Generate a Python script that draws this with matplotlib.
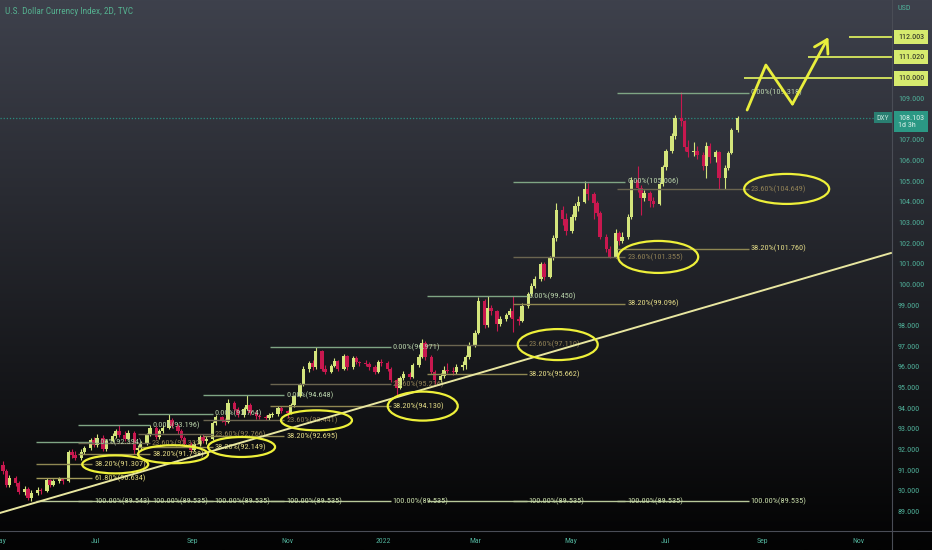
import numpy as np
import pandas as pd
import matplotlib
matplotlib.use("Agg")
import matplotlib.pyplot as plt
import matplotlib.dates as mdates
import matplotlib.transforms as mtransforms
from matplotlib.patches import Ellipse
from matplotlib.lines import Line2D
from matplotlib import font_manager

# pick a narrow face if one is installed (TradingView labels are condensed)
narrow = [f for f in font_manager.fontManager.ttflist
          if ("Narrow" in f.name or "Condensed" in f.name
              or f.stretch in ("condensed", "semi-condensed", "extra-condensed"))
          and f.style == "normal" and f.weight in (400, "normal", "regular")]
narrow.sort(key=lambda f: ("Liberation" not in f.name, "Roboto" not in f.name, f.name))
if narrow:
    FONT_FILE = narrow[0].fname
else:
    FONT_FILE = font_manager.findfont("Roboto")


def fp(size):
    return font_manager.FontProperties(fname=FONT_FILE, size=size)


# ---- data (2D candles, TVC:DXY) ----
first_open = 91.30
closes = [91.00, 90.30, 90.65, 90.40, 89.95, 90.10, 89.70, 89.90, 90.05, 90.00,
          90.55, 90.30, 90.50, 90.60, 90.50, 91.90, 91.75, 91.60, 91.90, 92.10,
          92.50, 92.25, 92.60, 92.05, 92.45, 92.70, 92.90, 92.75, 92.55, 92.85,
          92.00, 92.10, 92.35, 92.75, 93.05, 92.65, 92.90, 93.05, 93.45, 93.15,
          92.90, 92.60, 92.30, 92.00, 92.30, 92.65, 92.45, 92.55, 93.30, 93.60,
          93.45, 93.35, 94.30, 94.00, 93.70, 94.00, 94.20, 93.80, 93.65, 93.60,
          93.55, 93.70, 93.75, 94.05, 93.90, 93.80, 94.20, 94.60, 95.15, 95.95,
          96.20, 96.00, 96.80, 95.95, 95.80, 96.05, 96.30, 95.95, 96.55, 96.00,
          96.45, 96.25, 96.20, 96.15, 96.00, 95.80, 96.25, 96.20, 95.95, 95.40,
          95.00, 95.50, 95.70, 95.55, 96.10, 96.50, 97.20, 96.50, 95.80, 95.40,
          95.60, 95.90, 95.85, 95.80, 96.00, 96.10, 96.50, 97.10, 97.65, 99.20,
          98.05, 98.90, 98.75, 98.10, 98.35, 98.55, 98.75, 98.35, 98.25, 99.00,
          99.55, 99.95, 100.30, 101.00, 100.40, 101.30, 102.25, 103.65, 103.20, 102.60,
          103.30, 103.80, 104.00, 104.65, 104.40, 103.95, 103.50, 102.30, 101.75, 101.35,
          102.50, 102.15, 102.30, 103.30, 105.10, 104.70, 104.20, 104.45, 104.05, 103.90,
          104.90, 105.70, 106.50, 107.20, 108.10, 107.95, 106.70, 106.45, 106.50, 106.30,
          105.75, 106.75, 106.20, 106.45, 105.20, 105.65, 106.40, 107.50, 108.103]
highs = [91.45, 91.10, 90.80, 90.75, 90.50, 90.25, 90.20, 90.05, 90.20, 90.15,
         90.65, 90.60, 90.60, 90.70, 90.65, 92.00, 92.05, 91.95, 92.05, 92.20,
         92.60, 92.65, 92.80, 92.75, 92.55, 92.85, 93.00, 93.20, 92.90, 92.95,
         92.90, 92.25, 92.45, 92.85, 93.20, 93.15, 93.00, 93.20, 93.75, 93.55,
         93.25, 93.00, 92.70, 92.40, 92.45, 92.75, 92.80, 92.70, 93.40, 93.70,
         93.65, 93.55, 94.45, 94.40, 94.10, 94.10, 94.65, 94.30, 93.95, 93.75,
         93.70, 93.80, 93.85, 94.15, 94.15, 93.95, 94.30, 94.65, 95.25, 96.05,
         96.30, 96.35, 96.97, 96.85, 96.10, 96.15, 96.45, 96.35, 96.65, 96.60,
         96.55, 96.55, 96.30, 96.35, 96.25, 96.10, 96.35, 96.40, 96.30, 96.00,
         95.50, 95.60, 95.85, 95.80, 96.20, 96.65, 97.40, 97.30, 96.60, 95.90,
         95.75, 96.05, 96.20, 96.00, 96.15, 96.30, 96.60, 97.25, 97.80, 99.40,
         99.30, 99.45, 99.05, 98.80, 98.50, 98.65, 98.90, 99.45, 98.50, 99.10,
         99.65, 100.10, 100.45, 101.10, 101.10, 101.40, 102.40, 103.95, 103.80, 103.50,
         103.45, 103.95, 104.30, 105.01, 104.95, 104.50, 104.05, 103.60, 102.45, 101.90,
         102.70, 102.60, 102.55, 103.45, 105.25, 105.75, 104.85, 104.60, 104.55, 104.25,
         105.00, 105.80, 106.60, 107.35, 108.25, 109.32, 108.00, 107.00, 106.90, 106.75,
         106.45, 106.90, 106.85, 106.55, 106.50, 105.80, 106.50, 107.60, 108.20]
lows = [90.85, 90.20, 90.20, 90.25, 89.85, 89.80, 89.60, 89.54, 89.80, 89.85,
        89.95, 90.20, 90.25, 90.40, 90.35, 90.45, 91.60, 91.50, 91.50, 91.80,
        92.00, 92.15, 92.15, 91.95, 91.95, 92.40, 92.60, 92.65, 92.45, 92.50,
        91.80, 91.85, 92.00, 92.25, 92.70, 92.55, 92.55, 92.85, 93.00, 93.05,
        92.80, 92.50, 92.20, 91.90, 91.95, 92.20, 92.35, 92.30, 92.50, 93.20,
        93.35, 93.20, 93.30, 93.90, 93.60, 93.60, 93.95, 93.70, 93.50, 93.50,
        93.45, 93.45, 93.60, 93.65, 93.80, 93.55, 93.75, 94.10, 94.55, 95.10,
        95.80, 95.90, 95.95, 95.85, 95.70, 95.75, 96.00, 95.85, 95.90, 95.90,
        95.95, 96.15, 96.05, 96.05, 95.90, 95.70, 95.75, 96.05, 95.85, 95.30,
        94.65, 94.95, 95.40, 95.45, 95.50, 96.00, 96.45, 96.35, 95.70, 95.20,
        95.30, 95.50, 95.75, 95.65, 95.70, 95.90, 95.95, 96.40, 97.00, 97.60,
        97.90, 97.95, 98.55, 97.75, 98.00, 98.25, 98.45, 97.70, 98.05, 98.20,
        98.90, 99.45, 99.85, 100.20, 100.25, 100.35, 101.20, 102.15, 102.90, 102.40,
        102.50, 103.15, 103.60, 103.95, 104.10, 103.20, 103.35, 102.20, 101.60, 101.30,
        101.30, 101.95, 102.05, 102.20, 103.20, 104.50, 103.40, 104.05, 103.75, 103.75,
        103.85, 104.80, 105.55, 106.40, 107.05, 107.70, 106.50, 106.20, 106.25, 106.10,
        105.55, 105.20, 105.90, 105.95, 104.65, 104.65, 105.55, 106.35, 107.40]
dates = pd.bdate_range("2021-05-03", periods=len(closes), freq="2B")
opens = [first_open] + closes[:-1]

# fibonacci retracements drawn on the chart
fib_starts = ["2021-05-24", "2021-06-20", "2021-07-28", "2021-09-08",
              "2021-10-21", "2022-01-29", "2022-03-25", "2022-05-31"]
fib_ends = ["2021-06-29", "2021-08-05", "2021-09-14", "2021-10-30",
            "2022-01-06", "2022-04-03", "2022-06-05", "2022-08-23"]
fib_levels = [
    [(0, 92.394), (38.2, 91.307), (61.8, 90.634), (100, 89.543)],
    [(0, 93.196), (23.6, 92.332), (38.2, 91.798), (100, 89.535)],
    [(0, 93.764), (23.6, 92.766), (38.2, 92.149), (100, 89.535)],
    [(0, 94.648), (23.6, 93.441), (38.2, 92.695), (100, 89.535)],
    [(0, 96.971), (23.6, 95.216), (38.2, 94.130), (100, 89.535)],
    [(0, 99.450), (23.6, 97.110), (38.2, 95.662), (100, 89.535)],
    [(0, 105.006), (23.6, 101.355), (38.2, 99.096), (100, 89.535)],
    [(0, 109.318), (23.6, 104.649), (38.2, 101.760), (100, 89.535)],
]
circled = [38.2, 38.2, 38.2, 23.6, 38.2, 23.6, 23.6, 23.6]

trend_dates = ["2021-05-01", "2022-11-22"]
trend_prices = [88.955, 101.545]

target_prices = [112.003, 111.020, 110.000]
target_starts = ["2022-10-26", "2022-09-30", "2022-08-20"]
zig_dates = ["2022-08-22", "2022-09-03", "2022-09-20", "2022-10-13"]
zig_prices = [108.47, 110.65, 108.76, 112.00]

y_ticks = [89, 90, 91, 92, 93, 94, 95, 96, 97, 98, 99, 100, 101, 102, 103,
           104, 105, 106, 107, 109]
month_ticks = ["2021-05-01", "2021-07-01", "2021-09-01", "2021-11-01", "2022-01-01",
               "2022-03-01", "2022-05-01", "2022-07-01", "2022-09-01", "2022-11-01"]
month_labels = ["May", "Jul", "Sep", "Nov", "2022", "Mar", "May", "Jul", "Sep", "Nov"]
title = "U.S. Dollar Currency Index, 2D, TVC"

# ---- styling ----
PX_DAY = 1.563     # pixels per day
PX_PRICE = 20.65   # pixels per index point
TEAL = "#4fae98"
GREEN = "#d4e57c"
RED = "#c8184f"
lvl_line = {0: "#7fa584", 23.6: "#6b6550", 38.2: "#8f8752", 61.8: "#a39a5a", 100: "#b8c89a"}
lvl_text = {0: "#b8d2aa", 23.6: "#8e7f55", 38.2: "#e2da86", 61.8: "#e4dc7e", 100: "#c8dcaa"}
ell_w = [66, 70, 67, 71, 70, 80, 80, 85]
ell_h = [18, 18, 20, 20, 29, 31, 32, 30]
ell_dx = [23, 23, 29, 32, 32, 31, 33, 38]

fig = plt.figure(figsize=(9.32, 5.5), dpi=100)
renderer = fig.canvas.get_renderer()


def fit_size(sample, px):
    t = fig.text(0, 0, sample, fontproperties=fp(10))
    w = t.get_window_extent(renderer).width
    t.remove()
    return 10 * px / w


FS = fit_size("100.00%(89.535)", 55)
FS_TICK = fit_size("100.000", 26)
FS_TITLE = fit_size(title, 128)
FS_MONTH = fit_size("2022", 15)

bg = fig.add_axes([0, 0, 1, 1], zorder=-5)
grad = np.linspace(0, 1, 256)[:, None]
top = np.array([62, 65, 76]) / 255
bot = np.array([3, 3, 3]) / 255
img = top[None, None, :] * (1 - grad[..., None]) + bot[None, None, :] * grad[..., None]
bg.imshow(img, aspect="auto", extent=[0, 1, 0, 1])
bg.axis("off")

ax = fig.add_axes([0, 19 / 550, 892 / 932, 531 / 550])
ax.patch.set_alpha(0)
x0 = mdates.date2num(pd.Timestamp("2021-05-01"))
ax.set_xlim(x0, x0 + 892 / PX_DAY)
ax.set_ylim(88.08, 113.80)
for s in ax.spines.values():
    s.set_visible(False)
ax.set_xticks([])
ax.set_yticks([])

# candles
xd = mdates.date2num(dates)
o = np.array(opens)
c = np.array(closes)
cols = [GREEN if cc >= oo else RED for oo, cc in zip(o, c)]
ax.vlines(xd, lows, highs, colors=cols, lw=0.8, zorder=3)
body = np.maximum(np.abs(c - o), 0.03)
ax.bar(xd, body, bottom=np.minimum(o, c), width=2.2, color=cols, zorder=4)

# current price line
ax.axhline(closes[-1], color="#2a8c7e", lw=0.9, ls=(0, (1, 1.5)), zorder=2)

# fib retracements
for k, (s, e, lv) in enumerate(zip(fib_starts, fib_ends, fib_levels)):
    xs = mdates.date2num(pd.Timestamp(s))
    xe = mdates.date2num(pd.Timestamp(e))
    for pct, val in lv:
        ax.hlines(val, xs, xe, color=lvl_line[pct], lw=1.0, zorder=5)
        ax.text(xe + 2 / PX_DAY, val, f"{pct:.2f}%({val:.3f})", fontproperties=fp(FS),
                color=lvl_text[pct], va="center", ha="left", zorder=6)
        if pct == circled[k]:
            ax.add_patch(Ellipse((xe + ell_dx[k] / PX_DAY, val),
                                 ell_w[k] / PX_DAY, ell_h[k] / PX_PRICE,
                                 fill=False, ec="#eef03a", lw=1.6, zorder=7))

# trend line
ax.plot(pd.to_datetime(trend_dates), trend_prices, color="#e8e6a0", lw=1.4, zorder=6)

# projected path
zd = pd.to_datetime(zig_dates)
ax.plot(zd[:3], zig_prices[:3], color="#e9ee3c", lw=2, zorder=8, solid_capstyle="round")
ax.annotate("", xy=(mdates.date2num(zd[3]), zig_prices[3]),
            xytext=(mdates.date2num(zd[2]), zig_prices[2]),
            arrowprops=dict(arrowstyle="->,head_length=0.9,head_width=0.55",
                            color="#e9ee3c", lw=2, shrinkA=0, shrinkB=0), zorder=8)
for p, s in zip(target_prices, target_starts):
    ax.hlines(p, mdates.date2num(pd.Timestamp(s)), ax.get_xlim()[1],
              color="#d9ea5e", lw=1.3, zorder=6)

# right price scale
tr = mtransforms.blended_transform_factory(ax.transAxes, ax.transData)
for t in y_ticks:
    ax.text(1 + 6 / 892, t, f"{t:.3f}", transform=tr, fontproperties=fp(FS_TICK),
            color=TEAL, va="center", ha="left", clip_on=False)
for p in target_prices:
    ax.text(1 + 6 / 892, p, f"{p:.3f}", transform=tr, fontproperties=fp(FS_TICK),
            color="#1e1e1e", va="center", ha="left", clip_on=False,
            bbox=dict(boxstyle="square,pad=0.5", fc="#d6ea6e", ec="none"))
ax.text(1 + 6 / 892, closes[-1] - 0.18, f"{closes[-1]:.3f}\n1d 3h", transform=tr,
        fontproperties=fp(FS_TICK), color="#d8efe8", va="center", ha="left",
        clip_on=False, linespacing=1.25,
        bbox=dict(boxstyle="square,pad=0.5", fc="#2b9884", ec="none"))
ax.text(1 - 3 / 892, closes[-1], "DXY", transform=tr, fontproperties=fp(FS_TICK - 0.4),
        color="#bfe3da", va="center", ha="right", clip_on=False,
        bbox=dict(boxstyle="square,pad=0.35", fc="#2a7f72", ec="none"))

# time scale
trx = mtransforms.blended_transform_factory(ax.transData, ax.transAxes)
for d, lab in zip(month_ticks, month_labels):
    ax.text(mdates.date2num(pd.Timestamp(d)), -10 / 531, lab, transform=trx,
            fontproperties=fp(FS_MONTH), color=TEAL, ha="center", va="center",
            clip_on=False)

# frame separators and captions
fig.add_artist(Line2D([892 / 932, 892 / 932], [0, 1], color="#4a4d56", lw=0.8))
fig.add_artist(Line2D([0, 1], [19 / 550, 19 / 550], color="#4a4d56", lw=0.8))
fig.text(5 / 932, 1 - 11 / 550, title, fontproperties=fp(FS_TITLE),
         color="#55b08f", va="center", ha="left")
fig.text(898 / 932, 1 - 8 / 550, "USD", fontproperties=fp(FS_TICK), color=TEAL,
         va="center")

fig.savefig("out.png", dpi=100)
